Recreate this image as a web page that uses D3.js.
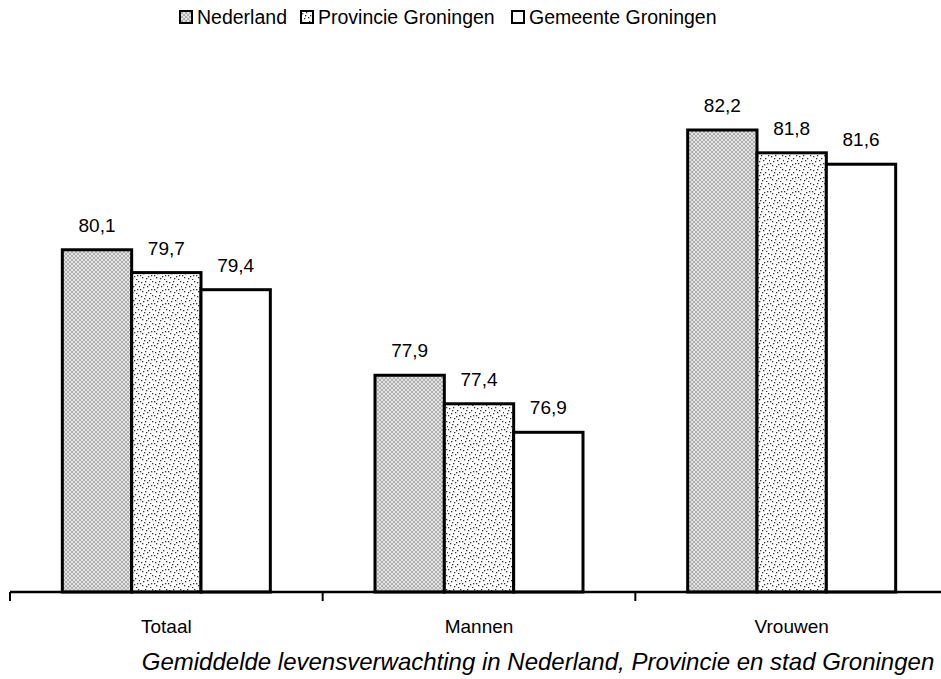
<!DOCTYPE html>
<html lang="nl">
<head>
<meta charset="utf-8">
<title>Levensverwachting</title>
<script src="https://d3js.org/d3.v7.min.js"></script>
<style>
  body { margin: 0; background: #fff; }
  text { font-family: "Liberation Sans", Arial, sans-serif; fill: #000; }
</style>
</head>
<body>
<script>
var w = 941, h = 679;
var categories = ["Totaal", "Mannen", "Vrouwen"];
var series = ["Nederland", "Provincie Groningen", "Gemeente Groningen"];
var nederland = [80.1, 77.9, 82.2];
var provincie = [79.7, 77.4, 81.8];
var gemeente = [79.4, 76.9, 81.6];
var title = "Gemiddelde levensverwachting in Nederland, Provincie en stad Groningen";

var values = [nederland, provincie, gemeente];
var rows = [];
categories.forEach(function(c, i) {
  series.forEach(function(s, j) {
    rows.push({cat: c, ser: s, si: j, v: values[j][i]});
  });
});

var svg = d3.select("body").append("svg")
  .attr("width", w).attr("height", h);

// patterns
var defs = svg.append("defs");
var p1 = defs.append("pattern").attr("id", "pNed")
  .attr("patternUnits", "userSpaceOnUse").attr("width", 4).attr("height", 4);
p1.append("rect").attr("width", 4).attr("height", 4).attr("fill", "#e2e2e2");
p1.append("path").attr("d", "M0,4L4,0M0,0L4,4").attr("stroke", "#9a9a9a").attr("stroke-width", 0.7);

var p2 = defs.append("pattern").attr("id", "pProv")
  .attr("patternUnits", "userSpaceOnUse").attr("width", 14).attr("height", 14);
p2.append("rect").attr("width", 14).attr("height", 14).attr("fill", "#fff");
var dots = [[1,2],[5,1],[9,4],[12,1],[3,7],[7,6],[11,9],[2,11],[6,12],[10,13],[13,6],[8,10],[4,4],[0,9]];
p2.selectAll("rect.d").data(dots).enter().append("rect")
  .attr("x", function(d) { return d[0]; }).attr("y", function(d) { return d[1]; })
  .attr("width", 1.3).attr("height", 1.3).attr("fill", "#333");

var fills = ["url(#pNed)", "url(#pProv)", "#fff"];

var margin = {left: 10, right: -7, top: 60, bottom: 87};
var baseY = h - margin.bottom;

var x0 = d3.scaleBand().domain(categories)
  .range([margin.left, w - margin.right]);
var x1 = d3.scaleBand().domain(series)
  .range([0, 208]);
var y = d3.scaleLinear().domain([74.1, 82.2]).range([baseY, 130]);

var g = svg.append("g");

g.selectAll("rect.bar").data(rows).enter().append("rect")
  .attr("class", "bar")
  .attr("x", function(d) { return x0(d.cat) + (x0.bandwidth() - 208) / 2 + x1(d.ser); })
  .attr("y", function(d) { return y(d.v); })
  .attr("width", x1.bandwidth())
  .attr("height", function(d) { return baseY - y(d.v); })
  .attr("fill", function(d) { return fills[d.si]; })
  .attr("stroke", "#000").attr("stroke-width", 3);

g.selectAll("text.val").data(rows).enter().append("text")
  .attr("class", "val")
  .attr("x", function(d) { return x0(d.cat) + (x0.bandwidth() - 208) / 2 + x1(d.ser) + x1.bandwidth() / 2; })
  .attr("y", function(d) { return y(d.v) - 18; })
  .attr("text-anchor", "middle")
  .attr("font-size", "19px")
  .text(function(d) { return d3.format(".1f")(d.v).replace(".", ","); });

// axis
var ax = svg.append("g").attr("transform", "translate(0," + baseY + ")")
  .call(d3.axisBottom(x0).tickSize(0).tickPadding(28));
ax.select(".domain").remove();
ax.selectAll("text").attr("font-size", "19px").attr("font-family", null);
svg.append("line").attr("x1", margin.left).attr("x2", w)
  .attr("y1", baseY).attr("y2", baseY).attr("stroke", "#000").attr("stroke-width", 2.5);
svg.selectAll("line.tk").data(categories).enter().append("line")
  .attr("x1", function(d) { return x0(d); }).attr("x2", function(d) { return x0(d); })
  .attr("y1", baseY).attr("y2", baseY + 9)
  .attr("stroke", "#000").attr("stroke-width", 2);

// legend
var legX = [180, 301, 512];
var lg = svg.selectAll("g.leg").data(series).enter().append("g")
  .attr("transform", function(d, i) { return "translate(" + legX[i] + ",11)"; });
lg.append("rect").attr("width", 12).attr("height", 12)
  .attr("fill", function(d, i) { return fills[i]; })
  .attr("stroke", "#000").attr("stroke-width", 2);
lg.append("text").attr("x", 17).attr("y", 13)
  .attr("font-size", "19.5px")
  .text(function(d) { return d; });

svg.append("text").attr("x", 538).attr("y", 670)
  .attr("text-anchor", "middle").attr("font-size", "24px")
  .attr("font-style", "italic")
  .text(title);
</script>
</body>
</html>
